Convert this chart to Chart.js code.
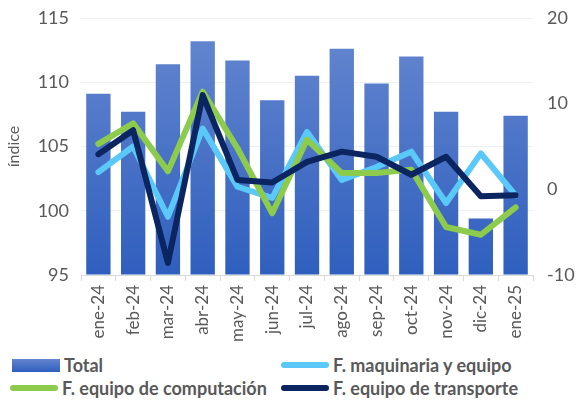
<!DOCTYPE html>
<html>
<head>
<meta charset="utf-8">
<script src="https://cdn.jsdelivr.net/npm/chart.js@4.4.1/dist/chart.umd.min.js"></script>
<style>
  body { margin: 0; background: #fff; font-family: Lato, sans-serif; }
  #wrap { position: relative; width: 577px; height: 352px; }
  .legend { position: absolute; left: 0; top: 352px; width: 577px; height: 48px; color: #595959; font-weight: bold; font-size: 18px; }
  .item { position: absolute; display: flex; align-items: center; white-space: nowrap; }
  .sw { display: inline-block; width: 48px; margin-right: 4px; }
  .box { height: 13px; background: linear-gradient(#6485ce, #2f5fbe); }
  .ln { height: 6px; border-radius: 3px; }
</style>
</head>
<body>
<div id="wrap"><canvas id="chart" width="577" height="352"></canvas></div>
<div class="legend" id="legend"></div>
<script>
const months = ['ene-24', 'feb-24', 'mar-24', 'abr-24', 'may-24', 'jun-24', 'jul-24', 'ago-24', 'sep-24', 'oct-24', 'nov-24', 'dic-24', 'ene-25'];
const total = [109.1, 107.7, 111.4, 113.2, 111.7, 108.6, 110.5, 112.6, 109.9, 112.0, 107.7, 99.4, 107.4];
const maquinaria = [2.0, 5.0, -3.2, 7.1, 0.3, -1.0, 6.7, 1.1, 2.6, 4.4, -1.6, 4.2, -0.7];
const computacion = [5.3, 7.7, 2.1, 11.4, 4.8, -2.8, 5.8, 1.9, 1.9, 2.3, -4.4, -5.3, -2.1];
const transporte = [4.1, 6.9, -8.6, 11.0, 1.1, 0.8, 3.2, 4.4, 3.8, 1.7, 3.8, -0.8, -0.7];
const leftTicks = [95, 100, 105, 110, 115];
const rightTicks = [-10, 0, 10, 20];

const gray = '#595959';
const legendItems = [
  { label: 'Total', cls: 'box', color: '', x: 12, y: 2 },
  { label: 'F. maquinaria y equipo', cls: 'ln', color: '#5bc8fa', x: 281, y: 2 },
  { label: 'F. equipo de computación', cls: 'ln', color: '#8ccb4c', x: 10, y: 25 },
  { label: 'F. equipo de transporte', cls: 'ln', color: '#0a2560', x: 281, y: 25 }
];

let leg = document.getElementById('legend');
legendItems.forEach(it => {
  let d = document.createElement('div');
  d.className = 'item';
  d.style.left = it.x + 'px';
  d.style.top = it.y + 'px';
  let s = document.createElement('span');
  s.className = 'sw ' + it.cls;
  if (it.color) s.style.background = it.color;
  d.appendChild(s);
  d.appendChild(document.createTextNode(it.label));
  leg.appendChild(d);
});

function barFill(ctx) {
  let area = ctx.chart.chartArea;
  if (!area) return '#4a72c8';
  let g = ctx.chart.ctx.createLinearGradient(0, area.top, 0, area.bottom);
  g.addColorStop(0, '#6788d0');
  g.addColorStop(1, '#2f5fbe');
  return g;
}

const lineStyle = {
  type: 'line',
  yAxisID: 'y1',
  borderWidth: 6,
  pointRadius: 0,
  tension: 0,
  borderCapStyle: 'round',
  borderJoinStyle: 'round',
  fill: false
};

function noPad(s) {
  s.paddingTop = 0;
  s.paddingBottom = 0;
}

new Chart(document.getElementById('chart'), {
  type: 'bar',
  data: {
    labels: months,
    datasets: [
      { label: 'Total', data: total, backgroundColor: barFill, yAxisID: 'y', base: 95, barPercentage: 0.7, categoryPercentage: 1, order: 3 },
      Object.assign({ label: 'F. maquinaria y equipo', data: maquinaria, borderColor: '#5bc8fa', order: 2 }, lineStyle),
      Object.assign({ label: 'F. equipo de computación', data: computacion, borderColor: '#8ccb4c', order: 1 }, lineStyle),
      Object.assign({ label: 'F. equipo de transporte', data: transporte, borderColor: '#0a2560', order: 0 }, lineStyle)
    ]
  },
  options: {
    responsive: false,
    animation: false,
    layout: { padding: { top: 18, left: 0, right: 0, bottom: 0 } },
    plugins: { legend: { display: false }, tooltip: { enabled: false } },
    scales: {
      x: {
        afterFit: s => { s.height = 77; s.paddingLeft = 0; s.paddingRight = 0; },
        grid: { display: true, offset: true, drawOnChartArea: false, tickLength: 6, color: '#d9d9d9' },
        border: { color: '#d9d9d9' },
        ticks: { color: gray, font: { family: 'Lato', size: 17 }, maxRotation: 90, minRotation: 90, padding: 4 }
      },
      y: {
        position: 'left',
        min: 95, max: 115,
        afterBuildTicks: s => { s.ticks = leftTicks.map(v => ({ value: v })); },
        afterFit: s => { s.width = 81; noPad(s); },
        grid: { color: '#f0f0f0', drawTicks: false },
        border: { display: false },
        ticks: { color: gray, font: { family: 'Lato', size: 18 }, padding: 12 },
        title: { display: true, text: 'índice', color: gray, font: { family: 'Lato', size: 16 }, padding: { top: 4, bottom: 0 } }
      },
      y1: {
        position: 'right',
        min: -10, max: 20,
        afterBuildTicks: s => { s.ticks = rightTicks.map(v => ({ value: v })); },
        afterFit: s => { s.width = 44; noPad(s); },
        grid: { display: false, drawTicks: false },
        border: { display: false },
        ticks: { color: gray, font: { family: 'Lato', size: 18 }, padding: 14 }
      }
    }
  }
});
</script>
</body>
</html>
